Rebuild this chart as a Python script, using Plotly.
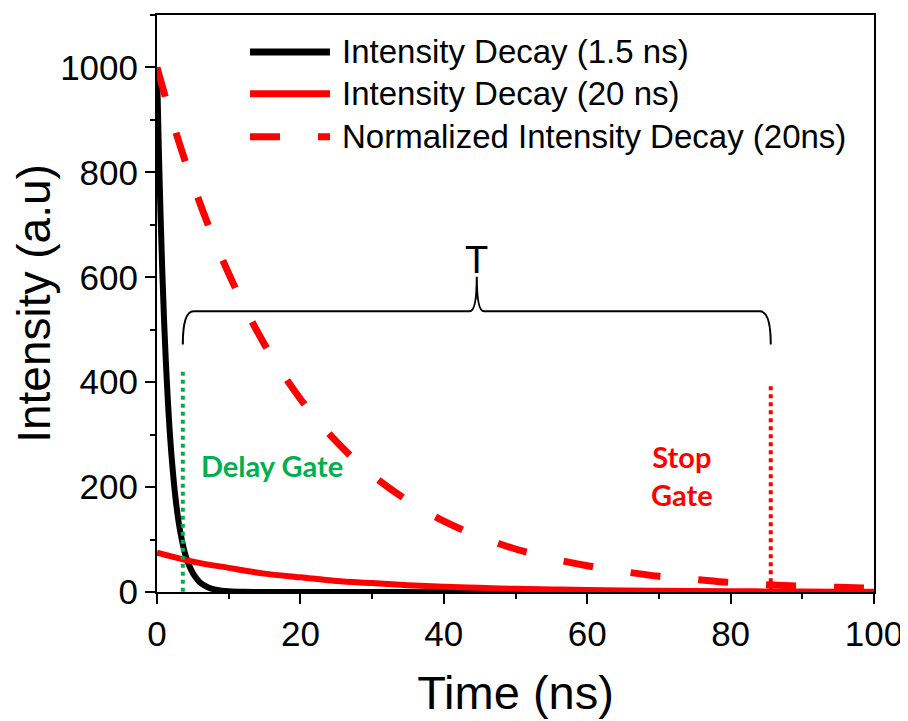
import plotly.graph_objects as go

# ---------------- data ----------------
t_fast = [0, 0.25, 0.5, 0.75, 1, 1.25, 1.5, 1.75, 2, 2.5, 3, 3.5, 4, 4.5, 5, 5.5,
          6, 7, 8, 9, 10, 12, 15, 20, 30, 40, 60, 80, 100]
i_fast = [1000, 846, 717, 607, 513, 435, 368, 311, 264, 189, 135, 97, 69, 50, 36, 26,
          18, 9.4, 4.8, 2.5, 1.3, 0.3, 0, 0, 0, 0, 0, 0, 0]

t_slow = [0, 5, 10, 15, 20, 25, 30, 35, 40, 45, 50, 55, 60, 65, 70, 75, 80, 85, 90, 95, 100]
i_slow = [75, 58, 46, 35, 28, 21, 17, 13, 10, 8, 6, 4.8, 3.7, 2.9, 2.3, 1.8, 1.4, 1.1, 0.8, 0.6, 0.5]

t_norm = [0, 2.5, 5, 7.5, 10, 12.5, 15, 17.5, 20, 22.5, 25, 27.5, 30, 32.5, 35, 37.5,
          40, 42.5, 45, 47.5, 50, 55, 60, 65, 70, 75, 80, 85, 90, 95, 100]
i_norm = [1000, 882, 779, 687, 607, 535, 472, 417, 368, 325, 287, 253, 223, 197, 174, 153,
          135, 119, 105, 93, 82, 64, 50, 39, 30, 24, 18, 14, 11, 9, 7]

series_names = ["Intensity Decay (1.5 ns)", "Intensity Decay (20 ns)",
                "Normalized Intensity Decay (20ns)"]

delay_gate = 3.6      # ns
delay_gate_top = 423
stop_gate = 85.6      # ns
stop_gate_top = 400

x_ticks = [0, 20, 40, 60, 80, 100]
y_ticks = [0, 200, 400, 600, 800, 1000]

# ---------------- figure ----------------
RED = "#FF0000"
GREEN = "#00B050"
DASH = "30px,38px"
FONT = "Liberation Sans, Arial, sans-serif"
BOLD = "Lato, Open Sans, sans-serif"

fig = go.Figure()
fig.add_trace(go.Scatter(x=t_fast, y=i_fast, mode="lines", name=series_names[0],
                         line=dict(color="black", width=6, shape="spline", smoothing=0.6),
                         showlegend=False))
fig.add_trace(go.Scatter(x=t_slow, y=i_slow, mode="lines", name=series_names[1],
                         line=dict(color=RED, width=6, shape="spline"),
                         showlegend=False))
fig.add_trace(go.Scatter(x=t_norm, y=i_norm, mode="lines", name=series_names[2],
                         line=dict(color=RED, width=7, dash=DASH, shape="spline"),
                         showlegend=False))

# gate lines
fig.add_trace(go.Scatter(x=[delay_gate, delay_gate], y=[-15, delay_gate_top], mode="lines",
                         line=dict(color=GREEN, width=4, dash="dot"), showlegend=False,
                         cliponaxis=False))
fig.add_trace(go.Scatter(x=[stop_gate, stop_gate], y=[-12, stop_gate_top], mode="lines",
                         line=dict(color=RED, width=4, dash="dot"), showlegend=False,
                         cliponaxis=False))

# brace between the gates
xc = (delay_gate + stop_gate) / 2
yb, ye, yp = 535, 472, 601
x0, x1 = delay_gate, stop_gate
path = (f"M {x0},{ye} Q {x0},{yb} {x0+1.5},{yb} L {xc-1},{yb} "
        f"Q {xc},{yb} {xc},{yp} Q {xc},{yb} {xc+1},{yb} "
        f"L {x1-1.5},{yb} Q {x1},{yb} {x1},{ye}")
fig.add_shape(type="path", path=path, xref="x", yref="y",
              line=dict(color="black", width=2))
fig.add_annotation(x=xc, y=632, text="T", showarrow=False,
                   font=dict(family=FONT, size=38, color="black"))

fig.add_annotation(x=16.0, y=241, text="<b>Delay Gate</b>", showarrow=False,
                   font=dict(family=BOLD, size=29, color=GREEN))
fig.add_annotation(x=73.2, y=222, text="<b>Stop</b><br><b>Gate</b>", showarrow=False,
                   font=dict(family=BOLD, size=29, color=RED))

# manual legend (longer line samples than plotly's legend)
leg_rows = [0.936, 0.8636, 0.789]
leg_styles = [dict(color="black", width=7), dict(color=RED, width=7),
              dict(color=RED, width=7, dash=DASH)]
for yy, st, nm in zip(leg_rows, leg_styles, series_names):
    fig.add_shape(type="line", xref="paper", yref="paper", x0=0.1297, x1=0.2413,
                  y0=yy, y1=yy, line=st)
    fig.add_annotation(xref="paper", yref="paper", x=0.2552, y=yy, xanchor="left",
                       yanchor="middle", text=nm, showarrow=False,
                       font=dict(family=FONT, size=33, color="black"))

axis_common = dict(showline=True, linecolor="black", linewidth=2, mirror=True,
                   ticks="outside", ticklen=10, tickwidth=2, tickcolor="black",
                   showgrid=False, zeroline=False,
                   tickfont=dict(family=FONT, size=35, color="black"))

fig.update_xaxes(range=[0, 100], tickvals=x_ticks,
                 minor=dict(ticks="outside", ticklen=5, tickwidth=2, tickcolor="black", dtick=10),
                 title=dict(text="Time (ns)", font=dict(family=FONT, size=47, color="black"),
                            standoff=24),
                 **axis_common)
fig.update_yaxes(range=[0, 1100], tickvals=y_ticks,
                 minor=dict(ticks="outside", ticklen=5, tickwidth=2, tickcolor="black", dtick=100),
                 title=dict(text="Intensity (a.u)", font=dict(family=FONT, size=46, color="black"),
                            standoff=2),
                 **axis_common)

# the page body adds an 8px margin, so the figure is sized to fit the 908x721 window
fig.update_layout(width=900, height=713, margin=dict(l=149, r=34, t=5, b=129),
                  plot_bgcolor="white", paper_bgcolor="white")

fig.write_html("out.html")
